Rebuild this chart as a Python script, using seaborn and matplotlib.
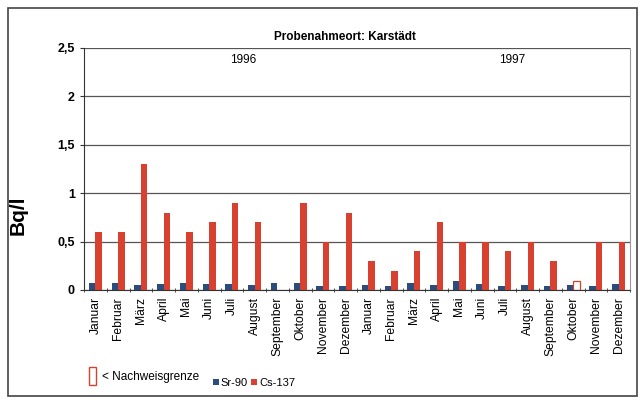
import numpy as np
import pandas as pd
import matplotlib
matplotlib.use("Agg")
import matplotlib.pyplot as plt
from matplotlib.patches import Patch, Rectangle
from matplotlib.ticker import FuncFormatter
import seaborn as sns

# Monatswerte Karstädt 1996/1997 (Bq/l)
months = ["Januar", "Februar", "März", "April", "Mai", "Juni", "Juli",
          "August", "September", "Oktober", "November", "Dezember"]
years = ["1996", "1997"]
sr90 = [0.07, 0.07, 0.055, 0.06, 0.07, 0.06, 0.06, 0.05, 0.07, 0.075, 0.045, 0.045,
        0.05, 0.045, 0.07, 0.05, 0.09, 0.065, 0.04, 0.05, 0.04, 0.05, 0.04, 0.06]
cs137 = [0.6, 0.6, 1.3, 0.8, 0.6, 0.7, 0.9, 0.7, np.nan, 0.9, 0.5, 0.8,
         0.3, 0.2, 0.4, 0.7, 0.5, 0.5, 0.4, 0.5, 0.3, 0.09, 0.5, 0.5]
# Cs-137 Oktober 1997 < Nachweisgrenze
below_limit = [False] * 21 + [True] + [False] * 2

keys = [f"{m} {y}" for y in years for m in months]
df = pd.DataFrame({"key": keys * 2,
                   "Nuklid": ["Sr-90"] * 24 + ["Cs-137"] * 24,
                   "Wert": sr90 + cs137})

blue = "#2b4c7e"
red = "#d8412f"

plt.rcParams["font.family"] = ["Liberation Sans", "DejaVu Sans"]
fig = plt.figure(figsize=(6.38, 4.0), dpi=100)
ax = fig.add_axes([84 / 638, 1 - 290 / 400, (630 - 84) / 638, (290 - 48) / 400])

sns.barplot(data=df, x="key", y="Wert", hue="Nuklid", order=keys,
            hue_order=["Sr-90", "Cs-137"], palette=[blue, red],
            width=0.58, ax=ax, legend=False, saturation=1)

# hollow bar for value below detection limit (match by x position)
red_rgb = matplotlib.colors.to_rgb(red)
for bar in ax.patches:
    if bar.get_facecolor()[:3] != red_rgb:
        continue
    idx = int(round(bar.get_x() + bar.get_width() / 2 - 0.145))
    if 0 <= idx < 24 and below_limit[idx]:
        bar.set_facecolor("white")
        bar.set_edgecolor(red)
        bar.set_linewidth(0.9)

ax.set_xlim(-0.5, 23.5)
ax.set_ylim(0, 2.5)
ax.set_yticks(np.arange(0, 2.51, 0.5))
ax.yaxis.set_major_formatter(FuncFormatter(lambda v, _: f"{v:g}".replace(".", ",")))
ax.set_xticks(range(24))
ax.set_xticklabels(months * 2, rotation=90, fontsize=8.7)
ax.set_xticks(np.arange(-0.5, 24, 1), minor=True)
ax.tick_params(axis="x", which="major", length=0, pad=5)
ax.tick_params(axis="x", which="minor", length=3, direction="inout", color="#333333")
ax.tick_params(axis="y", length=3, direction="out", labelsize=9, color="#333333")
for lbl in ax.get_yticklabels():
    lbl.set_fontweight("bold")

ax.grid(axis="y", color="#555555", linewidth=0.9)
ax.set_axisbelow(True)
for side in ["left", "bottom"]:
    ax.spines[side].set_color("#333333")
ax.spines["right"].set_color("#999999")
ax.spines["top"].set_visible(False)

ax.set_xlabel("")
ax.set_ylabel("Bq/l", fontsize=15, fontweight="bold")
ax.yaxis.set_label_coords(-0.103, 0.31)
ax.set_title("Probenahmeort: Karstädt", fontsize=8.5, fontweight="bold", pad=6, x=0.478)

ax.text(6.5, 2.38, "1996", ha="center", va="center", fontsize=8.5)
ax.text(18.3, 2.38, "1997", ha="center", va="center", fontsize=8.5)

# outer frame
fig.add_artist(Rectangle((8 / 638, 4 / 400), 629 / 638, 388 / 400, transform=fig.transFigure,
                         fill=False, edgecolor="#444444", linewidth=1.2))

# legends
fig.legend(handles=[Patch(facecolor="white", edgecolor=red, linewidth=1.0)],
           labels=["< Nachweisgrenze"], loc="center left",
           bbox_to_anchor=(78 / 638, 1 - 376 / 400), frameon=False,
           handlelength=0.6, handleheight=2.0, handletextpad=0.5, fontsize=8.5)
fig.legend(handles=[Patch(facecolor=blue), Patch(facecolor=red)],
           labels=["Sr-90", "Cs-137"], loc="center left", ncol=2,
           bbox_to_anchor=(203 / 638, 1 - 383 / 400), frameon=False,
           handlelength=0.5, handleheight=0.5, handletextpad=0.2,
           columnspacing=0.3, fontsize=8)

fig.savefig("out.png", dpi=100)
